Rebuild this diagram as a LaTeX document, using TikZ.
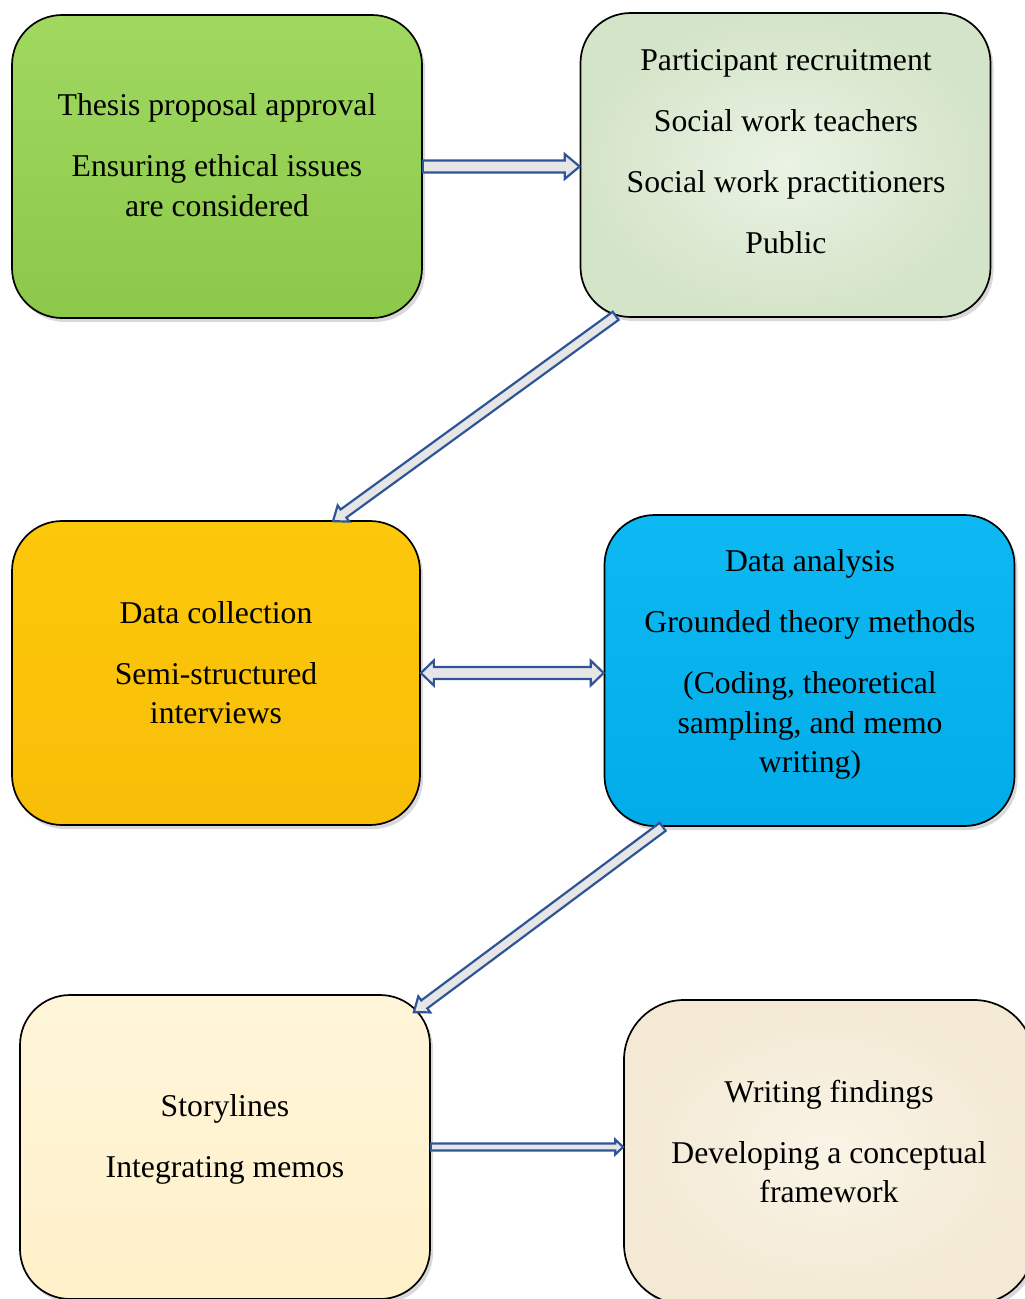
\documentclass[tikz,border=0pt]{standalone}
\usepackage{fontspec}
\setmainfont{Liberation Serif}
\usetikzlibrary{calc,shadows}
\definecolor{arrowblue}{HTML}{2F5597}
\definecolor{arrowgray}{HTML}{E7E6E6}
% block arrow: start, tip, half body width, half head width, head length
\newcommand{\blockarrow}[5]{%
  \coordinate (hb) at ($(#2)!#5!(#1)$);
  \filldraw[blockline] ($(#1)!#3!90:(#2)$) -- ($(hb)!#3!90:(#2)$) -- ($(hb)!#4!90:(#2)$) -- (#2)
    -- ($(hb)!#4!-90:(#2)$) -- ($(hb)!#3!-90:(#2)$) -- ($(#1)!#3!-90:(#2)$) -- cycle;
}
% same with a head at both ends
\newcommand{\dblockarrow}[5]{%
  \coordinate (ha) at ($(#1)!#5!(#2)$);
  \coordinate (hb) at ($(#2)!#5!(#1)$);
  \filldraw[blockline] (#1) -- ($(ha)!#4!90:(#2)$) -- ($(ha)!#3!90:(#2)$) -- ($(hb)!#3!90:(#2)$)
    -- ($(hb)!#4!90:(#2)$) -- (#2) -- ($(hb)!#4!-90:(#2)$) -- ($(hb)!#3!-90:(#2)$)
    -- ($(ha)!#3!-90:(#2)$) -- ($(ha)!#4!-90:(#2)$) -- cycle;
}

\begin{document}
\begin{tikzpicture}[x=1pt,y=1pt,
box/.style={draw=black, line width=1.7pt, rounded corners=50pt, minimum width=410pt,
  minimum height=304pt, inner sep=0pt,
  drop shadow={shadow xshift=3pt, shadow yshift=-4pt, opacity=.3}},
txt/.style={align=center, inner sep=0pt, font=\fontsize{31.7}{39.5}\selectfont},
blockline/.style={draw=arrowblue, fill=arrowgray, line width=2.2pt, line join=miter}]
\useasboundingbox (0,0) rectangle (1025,-1299);
\clip (0,0) rectangle (1025,-1299);

%boxes
\node[box, top color={rgb,255:red,160;green,216;blue,96}, bottom color={rgb,255:red,140;green,200;blue,74},
  minimum height=303pt] (thesis) at (217,-166.5) {};
\node[box, inner color={rgb,255:red,234;green,243;blue,228}, outer color={rgb,255:red,212;green,228;blue,200}]
  (recruit) at (785.5,-165) {};
\node[box, top color={rgb,255:red,252;green,200;blue,10}, bottom color={rgb,255:red,248;green,190;blue,8},
  minimum width=408pt] (collect) at (216,-673) {};
\node[box, top color={rgb,255:red,14;green,184;blue,242}, bottom color={rgb,255:red,2;green,172;blue,232},
  minimum height=311pt] (analysis) at (809.5,-670.5) {};
\node[box, top color={rgb,255:red,255;green,245;blue,218}, bottom color={rgb,255:red,255;green,240;blue,200}]
  (story) at (225,-1147) {};
\node[box, inner color={rgb,255:red,250;green,244;blue,230}, outer color={rgb,255:red,243;green,233;blue,212},
  rounded corners=60pt] (findings) at (829,-1152) {};

%texts
\node[txt] (thesis-t) at (217,-155) {Thesis proposal approval\\[21.5pt]Ensuring ethical issues\\are considered};
\node[txt] (recruit-t) at (786,-152) {Participant recruitment\\[21.5pt]Social work teachers\\[21.5pt]Social work practitioners\\[21.5pt]Public};
\node[txt] (collect-t) at (216,-662.5) {Data collection\\[21.5pt]Semi-structured\\interviews};
\node[txt] (analysis-t) at (810,-664.5) {Data analysis\\[21.5pt]Grounded theory methods\\[21.5pt](Coding, theoretical\\sampling, and memo\\writing)};
\node[txt] (story-t) at (225,-1139.5) {Storylines\\[21.5pt]Integrating memos};
\node[txt] (findings-t) at (829,-1141.5) {Writing findings\\[21.5pt]Developing a conceptual\\framework};

%arrow ends
\coordinate (a1) at (thesis.east -| recruit.west);
\coordinate (a2s) at ([xshift=36pt,yshift=2pt]recruit.south west);
\coordinate (a2e) at ([xshift=117pt,yshift=-1pt]collect.north);
\coordinate (a3) at (collect.east -| analysis.west);
\coordinate (a4s) at ([xshift=59pt]analysis.south west);
\coordinate (a4e) at ([xshift=-17pt,yshift=-18pt]story.north east);
\coordinate (a5) at (story.east -| findings.west);

%arrows
\blockarrow{thesis.east}{a1}{6pt}{12.5pt}{15pt}
\blockarrow{a2s}{a2e}{5pt}{10pt}{13pt}
\dblockarrow{collect.east}{a3}{6pt}{12.5pt}{13pt}
\blockarrow{a4s}{a4e}{5pt}{10pt}{13pt}
\blockarrow{story.east}{a5}{3.5pt}{7.5pt}{8pt}

\end{tikzpicture}
\end{document}
